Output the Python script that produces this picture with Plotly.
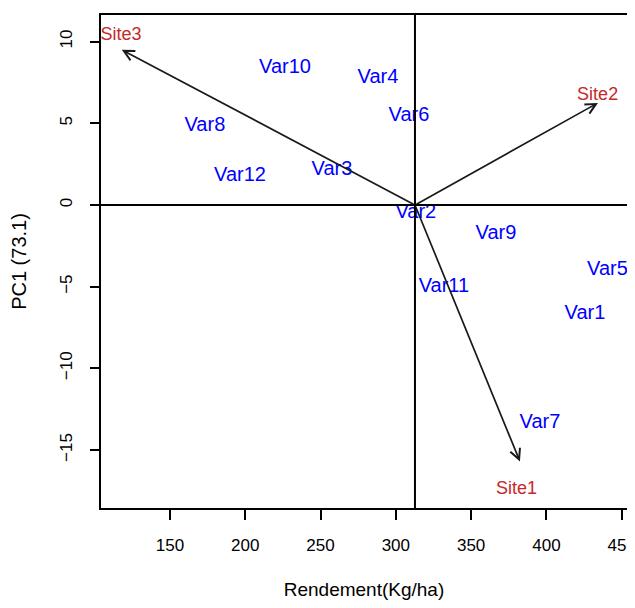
import plotly.graph_objects as go

# Genotype (variety) label positions
var_names = ["Var1", "Var2", "Var3", "Var4", "Var5", "Var6", "Var7", "Var8", "Var9", "Var10", "Var11", "Var12"]
var_x = [425.6, 313.3, 257.6, 288.1, 440.5, 308.7, 395.7, 173.2, 366.5, 226.4, 331.9, 196.5]
var_y = [-6.7, -0.5, 2.14, 7.8, -4.0, 5.45, -13.35, 4.84, -1.78, 8.4, -5.0, 1.78]

# Environment (site) vectors: arrow tips and label positions
site_names = ["Site1", "Site2", "Site3"]
site_tip_x = [382.4, 434.2, 118.0]
site_tip_y = [-15.7, 6.25, 9.5]
site_lab_x = [380.2, 434.0, 117.5]
site_lab_y = [-17.4, 6.7, 10.4]

# Biplot origin (mean yield, PC1 = 0)
origin_x = 312.7
origin_y = 0.0

x_ticks = [150, 200, 250, 300, 350, 400, 450]
y_ticks = [-15, -10, -5, 0, 5, 10]

x_title = "Rendement(Kg/ha)"
y_title = "PC1 (73.1)"

fig = go.Figure()

fig.add_trace(go.Scatter(
    x=var_x, y=var_y, text=var_names, mode="text",
    textfont=dict(family="Liberation Sans", size=20, color="#0000FF"),
    showlegend=False, cliponaxis=False,
))
fig.add_trace(go.Scatter(
    x=site_lab_x, y=site_lab_y, text=site_names, mode="text",
    textfont=dict(family="Liberation Sans", size=18, color="#C62828"),
    showlegend=False, cliponaxis=False,
))

# Reference lines
fig.add_vline(x=origin_x, line=dict(color="black", width=2))
fig.add_hline(y=origin_y, line=dict(color="black", width=2))

# Site vectors
for tx, ty in zip(site_tip_x, site_tip_y):
    fig.add_annotation(
        x=tx, y=ty, ax=origin_x, ay=origin_y,
        xref="x", yref="y", axref="x", ayref="y",
        showarrow=True, arrowhead=5, arrowsize=1.2, arrowwidth=1.7,
        arrowcolor="#1a1a1a", text="",
    )

fig.update_layout(
    width=619, height=592,
    margin=dict(l=93, r=0, t=7, b=92, autoexpand=False),
    paper_bgcolor="white", plot_bgcolor="white",
    font=dict(family="Liberation Sans", color="black"),
)
fig.update_xaxes(
    range=[104.2, 453.5], tickvals=x_ticks, showgrid=False, zeroline=False,
    showline=True, linecolor="black", linewidth=2, mirror=True, automargin=False,
    ticks="outside", ticklen=10, tickwidth=2, tickcolor="black",
    tickfont=dict(size=17), ticklabelstandoff=11, ticklabeloverflow="allow",
    title=dict(text=x_title, font=dict(size=19), standoff=42),
)
fig.update_yaxes(
    range=[-18.55, 11.63], tickvals=y_ticks, showgrid=False, zeroline=False,
    showline=True, linecolor="black", linewidth=2, mirror=True, automargin=False,
    ticks="outside", ticklen=9, tickwidth=2, tickcolor="black",
    tickfont=dict(size=17), tickangle=-90, ticklabelstandoff=11,
    title=dict(text=y_title, font=dict(size=20), standoff=25),
)

fig.write_html("out.html")
